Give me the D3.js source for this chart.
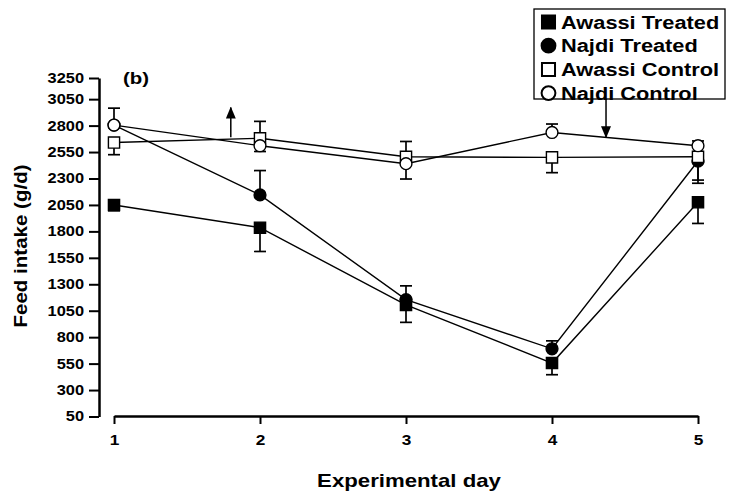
<!DOCTYPE html>
<html>
<head>
<meta charset="utf-8">
<script src="https://cdn.jsdelivr.net/npm/d3@7"></script>
<style>
  body { margin: 0; background: #fff; }
  text { font-family: "Liberation Sans", Arial, sans-serif; font-weight: bold; fill: #000; }
</style>
</head>
<body>
<div id="graph"></div>
<script>
// data (feed intake, g/d)
const days = [1, 2, 3, 4, 5];
const yTicks = [50, 300, 550, 800, 1050, 1300, 1550, 1800, 2050, 2300, 2550, 2800, 3050, 3250];

const awassiTreated = [2050, 1835, 1105, 555, 2075];
const najdiTreated  = [2805, 2145, 1155, 690, 2465];
const awassiControl = [2640, 2680, 2505, 2500, 2505];
const najdiControl  = [2805, 2610, 2440, 2735, 2610];

// error bars: positive = drawn upwards, negative = drawn downwards
const awassiTreatedErr = [-55, -225, -165, -110, -200];
const najdiTreatedErr  = [160, 230, 130, 75, -210];
const awassiControlErr = [-115, 160, 145, -145, -220];
const najdiControlErr  = [0, -55, -145, 80, 45];

const seriesNames = ["Awassi Treated", "Najdi Treated", "Awassi Control", "Najdi Control"];

// arrows: [day, from value, to value]
const arrows = [[1.8, 2690, 2970], [4.37, 3050, 2690]];

const width = 734, height = 498;

// the original lettering is wider than Arial: stretch text by a factor
function stretch(sel, k) {
  sel.each(function() {
    const w = this.getComputedTextLength();
    d3.select(this).attr("textLength", w * k).attr("lengthAdjust", "spacingAndGlyphs");
  });
}

const svg = d3.select("#graph")
  .append("svg")
    .attr("width", width)
    .attr("height", height);

const x = d3.scaleLinear().domain([1, 5]).range([114, 698]);
const y = d3.scaleLinear().domain([50, 3250]).range([416.5, 78]);

// Y axis
const yAxis = svg.append("g")
  .attr("transform", "translate(99,0)")
  .call(d3.axisLeft(y).tickValues(yTicks).tickSize(10).tickSizeOuter(0).tickPadding(5).tickFormat(d3.format("d")));
yAxis.select(".domain").attr("stroke-width", 2.5);
yAxis.selectAll(".tick line").attr("stroke-width", 2);
yAxis.selectAll(".tick text").style("font-size", "14px").style("font-family", "Liberation Sans").style("font-weight", "bold")
  .call(stretch, 1.17);

// X axis
const xAxis = svg.append("g")
  .attr("transform", "translate(0,416)")
  .call(d3.axisBottom(x).tickValues(days).tickSize(8).tickSizeOuter(0).tickPadding(10).tickFormat(d3.format("d")));
xAxis.select(".domain").attr("stroke-width", 2.5);
xAxis.selectAll(".tick line").attr("stroke-width", 2);
xAxis.selectAll(".tick text").style("font-size", "15px").style("font-family", "Liberation Sans").style("font-weight", "bold")
  .call(stretch, 1.15);

// axis titles
svg.append("text")
  .attr("x", 409).attr("y", 487)
  .attr("text-anchor", "middle")
  .style("font-size", "18.5px")
  .text("Experimental day")
  .call(stretch, 1.2);

svg.append("text")
  .attr("transform", "translate(27,246) rotate(-90)")
  .attr("text-anchor", "middle")
  .style("font-size", "19px")
  .text("Feed intake (g/d)")
  .call(stretch, 1.08);

svg.append("text")
  .attr("x", 123).attr("y", 84)
  .style("font-size", "17px")
  .text("(b)")
  .call(stretch, 1.2);

const series = [
  {name: seriesNames[0], values: awassiTreated, err: awassiTreatedErr, shape: d3.symbolSquare, fill: "#000"},
  {name: seriesNames[1], values: najdiTreated,  err: najdiTreatedErr,  shape: d3.symbolCircle, fill: "#000"},
  {name: seriesNames[2], values: awassiControl, err: awassiControlErr, shape: d3.symbolSquare, fill: "#fff"},
  {name: seriesNames[3], values: najdiControl,  err: najdiControlErr,  shape: d3.symbolCircle, fill: "#fff"}
];

const line = d3.line().x(d => x(d.day)).y(d => y(d.value));

series.forEach(function(s) {
  s.points = days.map((d, i) => ({day: d, value: s.values[i], err: s.err[i]}));
});

// lines
series.forEach(function(s) {
  svg.append("path")
    .datum(s.points)
    .attr("fill", "none")
    .attr("stroke", "#000")
    .attr("stroke-width", 1.4)
    .attr("d", line);
});

// error bars
series.forEach(function(s) {
  const g = svg.append("g").attr("stroke", "#000").attr("stroke-width", 1.7);
  s.points.filter(p => p.err !== 0).forEach(function(p) {
    g.append("line")
      .attr("x1", x(p.day)).attr("x2", x(p.day))
      .attr("y1", y(p.value)).attr("y2", y(p.value + p.err));
    g.append("line")
      .attr("x1", x(p.day) - 6).attr("x2", x(p.day) + 6)
      .attr("y1", y(p.value + p.err)).attr("y2", y(p.value + p.err));
  });
});

// markers
series.forEach(function(s) {
  svg.append("g")
    .selectAll("path")
    .data(s.points)
    .join("path")
      .attr("transform", d => `translate(${x(d.day)},${y(d.value)})`)
      .attr("d", d3.symbol().type(s.shape).size(s.shape === d3.symbolSquare ? 125 : 110))
      .attr("fill", s.fill)
      .attr("stroke", "#000")
      .attr("stroke-width", 1.4);
});

// arrows
svg.append("defs").append("marker")
  .attr("id", "head")
  .attr("viewBox", "0 0 12 10")
  .attr("refX", 11).attr("refY", 5)
  .attr("markerWidth", 12).attr("markerHeight", 10)
  .attr("markerUnits", "userSpaceOnUse")
  .attr("orient", "auto")
  .append("path")
    .attr("d", "M0,0 L12,5 L0,10 Z")
    .attr("fill", "#000");

arrows.forEach(function(a) {
  svg.append("line")
    .attr("x1", x(a[0])).attr("x2", x(a[0]))
    .attr("y1", y(a[1])).attr("y2", y(a[2]))
    .attr("stroke", "#000")
    .attr("stroke-width", 1.5)
    .attr("marker-end", "url(#head)");
});

// legend
const legend = svg.append("g").attr("transform", "translate(534,9)");
legend.append("rect")
  .attr("width", 191).attr("height", 90)
  .attr("fill", "#fff")
  .attr("stroke", "#000")
  .attr("stroke-width", 1.3);

series.forEach(function(s, i) {
  const row = legend.append("g").attr("transform", `translate(0,${13 + i * 23.7})`);
  row.append("path")
    .attr("transform", "translate(14.5,0)")
    .attr("d", d3.symbol().type(s.shape).size(s.shape === d3.symbolSquare ? 170 : 150))
    .attr("fill", s.fill)
    .attr("stroke", "#000")
    .attr("stroke-width", 2);
  row.append("text")
    .attr("x", 27).attr("y", 6.5)
    .style("font-size", "18px")
    .text(s.name)
    .call(stretch, 1.21);
});
</script>
</body>
</html>
